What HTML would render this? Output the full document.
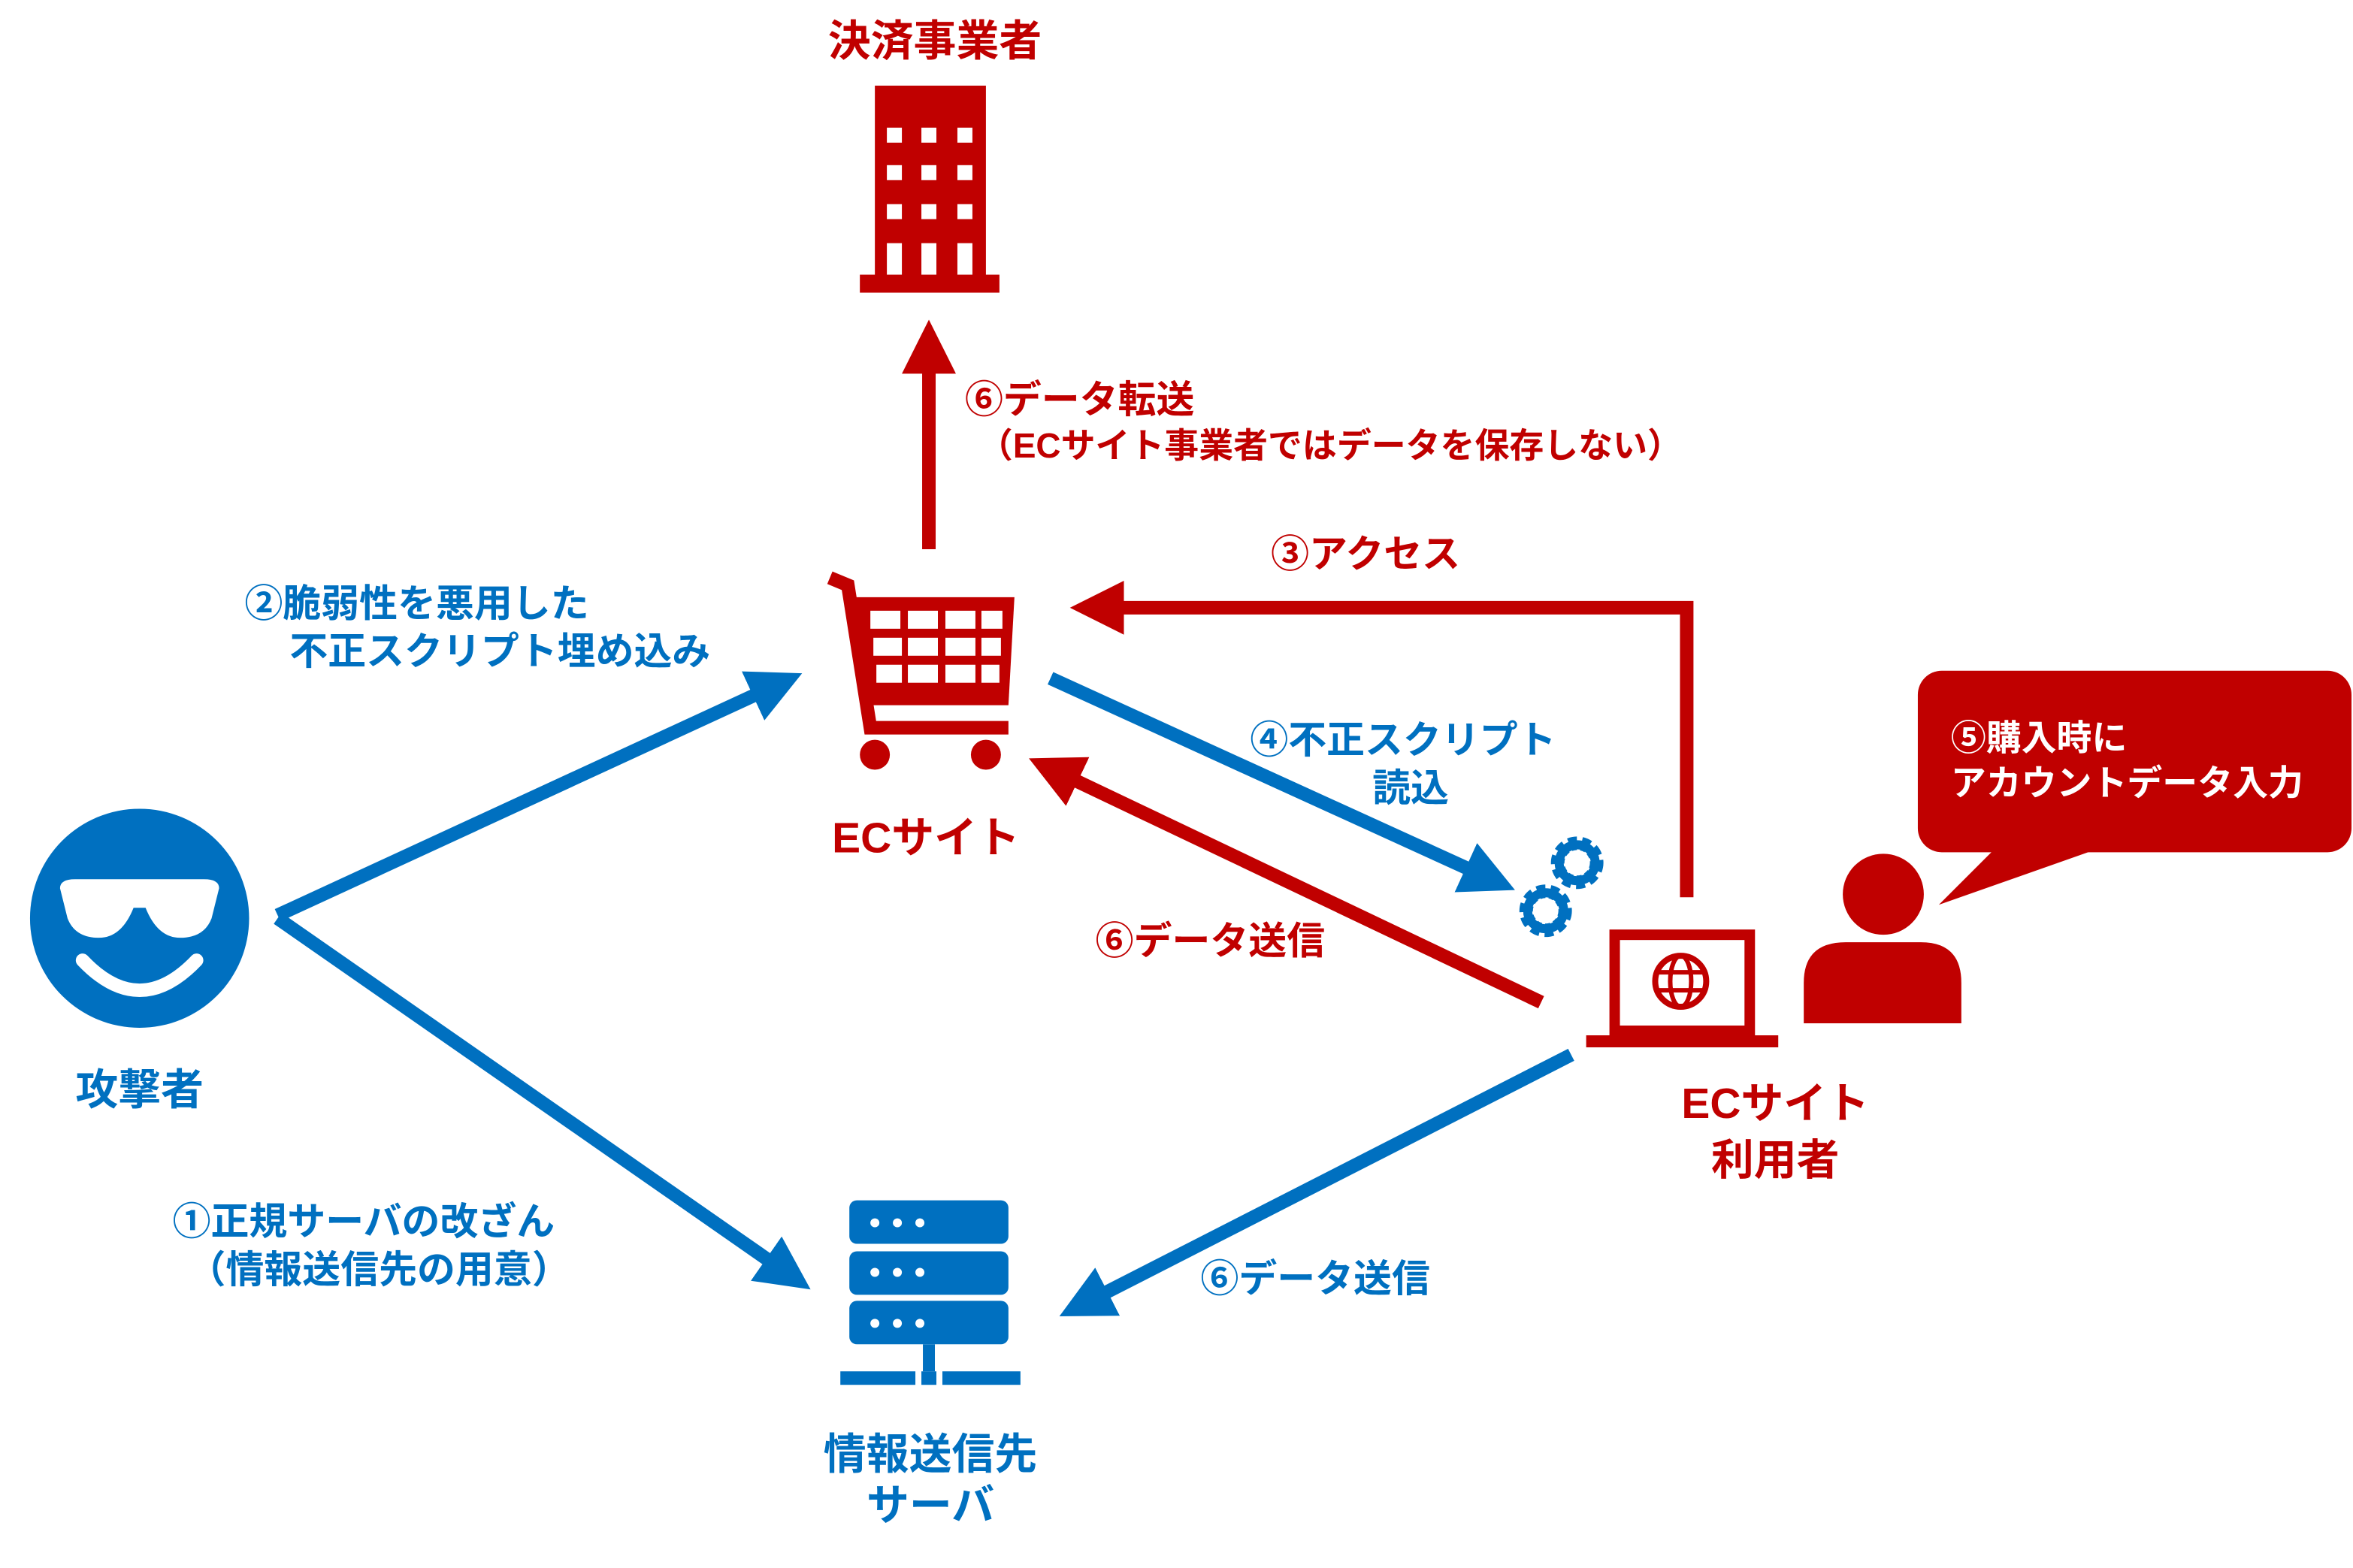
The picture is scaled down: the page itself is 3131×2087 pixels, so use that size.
<!DOCTYPE html>
<html><head><meta charset="utf-8"><style>
html,body{margin:0;padding:0;background:#fff}
svg{display:block}
text{font-family:"Liberation Sans","Noto Sans CJK JP",sans-serif;font-weight:bold}
.b{fill:#0070C0}.r{fill:#C00000}
</style></head><body>
<svg width="3131" height="2087" viewBox="0 0 1568 1045" xmlns="http://www.w3.org/2000/svg">
<defs>
<marker id="ab" markerWidth="4" markerHeight="4" refX="1" refY="2" orient="auto" markerUnits="strokeWidth"><path d="M0,0 L4,2 L0,4 z" fill="#0070C0"/></marker>
<marker id="ar" markerWidth="4" markerHeight="4" refX="1" refY="2" orient="auto" markerUnits="strokeWidth"><path d="M0,0 L4,2 L0,4 z" fill="#C00000"/></marker>
</defs>
<text x="623" y="37" class="r" font-size="28.5" text-anchor="middle">決済事業者</text>
<rect x="583" y="57" width="74" height="130" class="r"/>
<rect x="573" y="183" width="93" height="12" class="r"/>
<g fill="#fff">
<rect x="591" y="85" width="10" height="10"/><rect x="614" y="85" width="10" height="10"/><rect x="638" y="85" width="10" height="10"/>
<rect x="591" y="110" width="10" height="10"/><rect x="614" y="110" width="10" height="10"/><rect x="638" y="110" width="10" height="10"/>
<rect x="591" y="136" width="10" height="10"/><rect x="614" y="136" width="10" height="10"/><rect x="638" y="136" width="10" height="10"/>
<rect x="591" y="162" width="10" height="21"/><rect x="614" y="162" width="10" height="21"/><rect x="638" y="162" width="10" height="21"/>
</g>
<line x1="619" y1="366" x2="619" y2="240" stroke="#C00000" stroke-width="9" marker-end="url(#ar)"/>
<text x="643" y="275" class="r" font-size="25.5">⑥データ転送</text>
<text x="652" y="305" class="r" font-size="23">（ECサイト事業者ではデータを保存しない）</text>
<g fill="none" stroke="#C00000" stroke-width="9">
<path d="M553,385 L565,390 L580,485 L672,485"/>
</g>
<path d="M570,398 L676,398 L672,470 L582,470 Z" class="r"/>
<g fill="#fff">
<rect x="580" y="407" width="20" height="12"/><rect x="605" y="407" width="20" height="12"/><rect x="630" y="407" width="20" height="12"/><rect x="654" y="407" width="14" height="12"/>
<rect x="582" y="425" width="19" height="12"/><rect x="605" y="425" width="20" height="12"/><rect x="630" y="425" width="20" height="12"/><rect x="654" y="425" width="13" height="12"/>
<rect x="584" y="443" width="17" height="12"/><rect x="605" y="443" width="20" height="12"/><rect x="630" y="443" width="20" height="12"/><rect x="654" y="443" width="12" height="12"/>
</g>
<circle cx="583" cy="503" r="10" class="r"/><circle cx="657" cy="503" r="10" class="r"/>
<text x="617" y="568" class="r" font-size="28.5" text-anchor="middle">ECサイト</text>
<text x="910" y="378" class="r" font-size="25.5" text-anchor="middle">③アクセス</text>
<path d="M1124,598 L1124,405 L740,405" fill="none" stroke="#C00000" stroke-width="9" marker-end="url(#ar)"/>
<circle cx="93" cy="612" r="73" class="b"/>
<path d="M40,592 Q40,586 50,586 L136,586 Q146,586 146,592 L141,612 Q136,625 120,625 Q105,625 97,605 L89,605 Q81,625 66,625 Q50,625 45,612 Z" fill="#fff"/>
<path d="M55,640 Q93,680 131,640" fill="none" stroke="#fff" stroke-width="9" stroke-linecap="round"/>
<text x="93" y="736" class="b" font-size="28.5" text-anchor="middle">攻撃者</text>
<text x="163" y="411" class="b" font-size="25.5">②脆弱性を悪用した</text>
<text x="193" y="443" class="b" font-size="25.5">不正スクリプト埋め込み</text>
<line x1="185" y1="610" x2="510" y2="460" stroke="#0070C0" stroke-width="9" marker-end="url(#ab)"/>
<line x1="185" y1="612" x2="518" y2="844" stroke="#0070C0" stroke-width="9" marker-end="url(#ab)"/>
<text x="115" y="823" class="b" font-size="25.5">①正規サーバの改ざん</text>
<text x="125" y="855" class="b" font-size="25.5">（情報送信先の用意）</text>
<rect x="566" y="800" width="106" height="29" rx="5" class="b"/>
<rect x="566" y="834" width="106" height="29" rx="5" class="b"/>
<rect x="566" y="867" width="106" height="29" rx="5" class="b"/>
<g fill="#fff"><circle cx="583" cy="815" r="3"/><circle cx="598" cy="815" r="3"/><circle cx="613" cy="815" r="3"/>
<circle cx="583" cy="848" r="3"/><circle cx="598" cy="848" r="3"/><circle cx="613" cy="848" r="3"/>
<circle cx="583" cy="882" r="3"/><circle cx="598" cy="882" r="3"/><circle cx="613" cy="882" r="3"/></g>
<rect x="615" y="896" width="8" height="18" class="b"/>
<rect x="560" y="914" width="50" height="9" class="b"/><rect x="614" y="914" width="10" height="9" class="b"/><rect x="628" y="914" width="52" height="9" class="b"/>
<text x="620" y="979" class="b" font-size="28.5" text-anchor="middle">情報送信先</text>
<text x="620" y="1013" class="b" font-size="28.5" text-anchor="middle">サーバ</text>
<line x1="700" y1="452" x2="985" y2="582" stroke="#0070C0" stroke-width="9" marker-end="url(#ab)"/>
<text x="833" y="502" class="b" font-size="25.5">④不正スクリプト</text>
<text x="940" y="534" class="b" font-size="25.5" text-anchor="middle">読込</text>
<g class="b">
<circle cx="1051" cy="575" r="13" fill="none" stroke="#0070C0" stroke-width="9" stroke-dasharray="5 3"/>
<circle cx="1051" cy="575" r="12" fill="none" stroke="#0070C0" stroke-width="6"/>
<circle cx="1030" cy="607" r="13" fill="none" stroke="#0070C0" stroke-width="9" stroke-dasharray="5 3"/>
<circle cx="1030" cy="607" r="12" fill="none" stroke="#0070C0" stroke-width="6"/>
</g>
<line x1="1027" y1="668" x2="710" y2="517" stroke="#C00000" stroke-width="9" marker-end="url(#ar)"/>
<text x="730" y="636" class="r" font-size="25.5">⑥データ送信</text>
<rect x="1076" y="623" width="90" height="64" fill="none" stroke="#C00000" stroke-width="7"/>
<path d="M1057,690 L1185,690 L1185,698 L1057,698 Z" class="r"/>
<circle cx="1120" cy="654" r="17" fill="none" stroke="#C00000" stroke-width="4"/>
<ellipse cx="1120" cy="654" rx="7" ry="17" fill="none" stroke="#C00000" stroke-width="3"/>
<line x1="1103" y1="648" x2="1137" y2="648" stroke="#C00000" stroke-width="3"/>
<line x1="1103" y1="660" x2="1137" y2="660" stroke="#C00000" stroke-width="3"/>
<text x="1183" y="745" class="r" font-size="28.5" text-anchor="middle">ECサイト</text>
<text x="1183" y="783" class="r" font-size="28.5" text-anchor="middle">利用者</text>
<circle cx="1255" cy="596" r="27" class="r"/>
<path d="M1202,682 L1202,655 Q1202,628 1230,628 L1280,628 Q1307,628 1307,655 L1307,682 Z" class="r"/>
<rect x="1278" y="447" width="289" height="121" rx="16" class="r"/>
<path d="M1330,565 L1292,603 L1400,565 Z" class="r"/>
<text x="1300" y="500" fill="#fff" font-size="23.5">⑤購入時に</text>
<text x="1300" y="530" fill="#fff" font-size="23.5">アカウントデータ入力</text>
<line x1="1047" y1="703" x2="730" y2="865" stroke="#0070C0" stroke-width="9" marker-end="url(#ab)"/>
<text x="800" y="861" class="b" font-size="25.5">⑥データ送信</text>
</svg>
</body></html>
